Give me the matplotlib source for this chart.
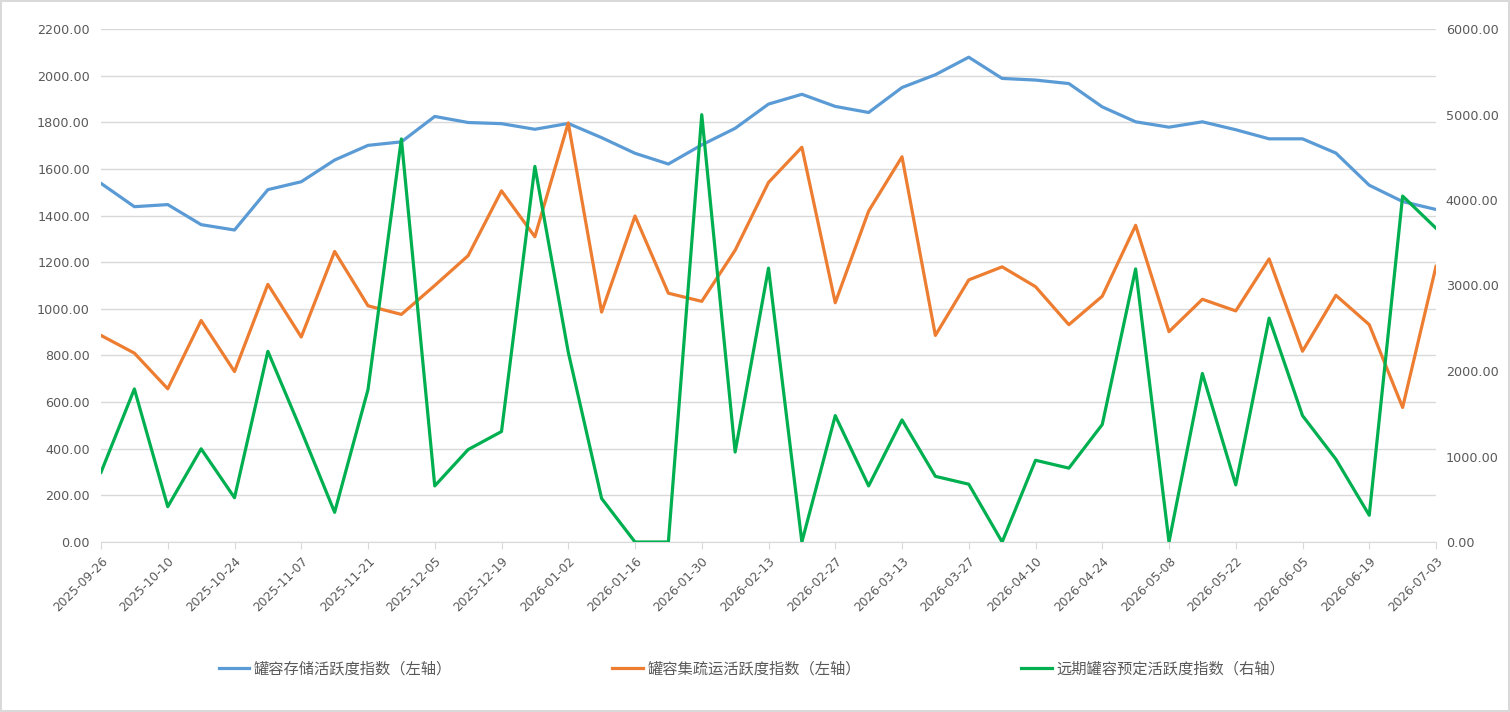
import matplotlib
matplotlib.use('Agg')
import matplotlib.pyplot as plt
import pandas as pd

plt.rcParams['font.family'] = ['DejaVu Sans', 'Noto Sans CJK SC']

dates = pd.date_range('2025-09-26', periods=41, freq='7D').strftime('%Y-%m-%d').tolist()

storage = [1538, 1438, 1447, 1361, 1338, 1511, 1545, 1638, 1701, 1716,
           1825, 1799, 1794, 1770, 1795, 1734, 1667, 1621, 1703, 1774,
           1878, 1920, 1868, 1842, 1949, 2004, 2079, 1988, 1981, 1966,
           1866, 1802, 1779, 1802, 1768, 1729, 1729, 1668, 1530, 1460,
           1426]
transport = [886, 810, 657, 950, 731, 1105, 879, 1246, 1013, 976,
             1100, 1228, 1506, 1309, 1797, 986, 1398, 1067, 1032, 1251,
             1542, 1693, 1026, 1419, 1652, 886, 1124, 1180, 1095, 932,
             1054, 1358, 902, 1041, 991, 1214, 818, 1058, 932, 577,
             1182]
booking = [815, 1790, 413, 1090, 518, 2230, 1303, 347, 1783, 4714,
           656, 1081, 1292, 4393, 2221, 509, 0, 0, 4998, 1052,
           3203, 0, 1478, 656, 1428, 768, 676, 0, 956, 864,
           1374, 3194, 0, 1971, 668, 2618, 1478, 969, 313, 4046,
           3670]

labels = ['罐容存储活跃度指数（左轴）', '罐容集疏运活跃度指数（左轴）', '远期罐容预定活跃度指数（右轴）']
colors = ['#5B9BD5', '#ED7D31', '#00B050']
grey_txt = '#595959'
grey_line = '#D9D9D9'

fig = plt.figure(figsize=(15.1, 7.12), dpi=100, edgecolor=grey_line, linewidth=1.5)
ax = fig.add_axes([101 / 1510, 1 - 542 / 712, (1436 - 101) / 1510, (542 - 29) / 712])
ax2 = ax.twinx()

x = range(len(dates))
l1, = ax.plot(x, storage, color=colors[0], lw=2.3, label=labels[0])
l2, = ax.plot(x, transport, color=colors[1], lw=2.3, label=labels[1])
l3, = ax2.plot(x, booking, color=colors[2], lw=2.3, label=labels[2])

ax.set_xlim(0, len(dates) - 1)
ax.set_ylim(0, 2200)
ax2.set_ylim(0, 6000)
ax.set_yticks(range(0, 2201, 200))
ax2.set_yticks(range(0, 6001, 1000))
ax.yaxis.set_major_formatter(lambda v, p: f'{v:.2f}')
ax2.yaxis.set_major_formatter(lambda v, p: f'{v:.2f}')

ax.set_xticks(range(0, len(dates), 2))
ax.set_xticklabels(dates[::2], rotation=45, ha='right', rotation_mode='anchor')

ax.grid(axis='y', color=grey_line, lw=1)
ax.set_axisbelow(True)
for a in (ax, ax2):
    for s in ('top', 'left', 'right'):
        a.spines[s].set_visible(False)
    a.spines['bottom'].set_color(grey_line)
ax2.spines['bottom'].set_visible(False)

ax.tick_params(axis='y', length=0, pad=8, labelsize=9.2, labelcolor=grey_txt)
ax2.tick_params(axis='y', length=0, pad=7, labelsize=9.2, labelcolor=grey_txt)
ax.tick_params(axis='x', length=5, color=grey_line, pad=4, labelsize=8.8, labelcolor=grey_txt)

fig.legend(handles=[l1, l2, l3], loc='center', bbox_to_anchor=(0.498, 1 - 669 / 712), ncol=3,
           frameon=False, fontsize=11, labelcolor=grey_txt, handlelength=2.0,
           handletextpad=0.3, columnspacing=10.5)

fig.savefig('out.png', dpi=100, edgecolor=fig.get_edgecolor())
